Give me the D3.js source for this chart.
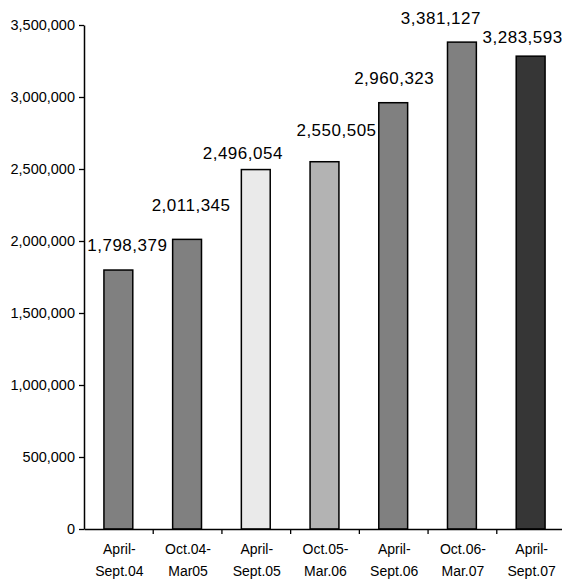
<!DOCTYPE html>
<html>
<head>
<meta charset="utf-8">
<script src="https://cdn.jsdelivr.net/npm/d3@7"></script>
<style>
  html, body { margin: 0; padding: 0; background: #fff; }
  svg { display: block; font-family: "Liberation Sans", Arial, sans-serif; }
</style>
</head>
<body>
<svg id="chart" width="562" height="582"></svg>
<script>
// ---- data ----
const categories = [
  ["April-", "Sept.04"],
  ["Oct.04-", "Mar05"],
  ["April-", "Sept.05"],
  ["Oct.05-", "Mar.06"],
  ["April-", "Sept.06"],
  ["Oct.06-", "Mar.07"],
  ["April-", "Sept.07"]
];
const values = [1798379, 2011345, 2496054, 2550505, 2960323, 3381127, 3283593];
const barColors = ["#808080", "#808080", "#eaeaea", "#b3b3b3", "#808080", "#808080", "#363636"];
const yTicks = [0, 500000, 1000000, 1500000, 2000000, 2500000, 3000000, 3500000];
// label nudges (as placed in the original chart), px
const labelDx = [9, 4, -13, 12, 1, -21, -8];
const labelDy = [-19, -28, -11, -26, -19, -18, -13];

// ---- layout ----
const svg = d3.select("#chart");
const plotLeft = 84, plotRight = 565, plotTop = 25, plotBottom = 529;

const y = d3.scaleLinear().domain([0, 3500000]).range([plotBottom, plotTop]);
const x = d3.scaleBand().domain(d3.range(categories.length)).range([plotLeft, plotRight]).padding(0);
const xb = d3.scaleLinear().domain([0, categories.length]).range([plotLeft, plotRight]);

// y axis
const yAxis = svg.append("g")
  .attr("transform", `translate(${plotLeft},0)`)
  .call(d3.axisLeft(y).tickValues(yTicks).tickFormat(d3.format(",")).tickSize(5).tickSizeOuter(0).tickPadding(4));
yAxis.select(".domain").attr("stroke", "#000").attr("stroke-width", 1.5);
yAxis.selectAll(".tick line").attr("stroke", "#000").attr("stroke-width", 1.3);
yAxis.selectAll(".tick text").attr("fill", "#000").style("font-size", "14.5px")
  .style("font-family", "'Liberation Sans', Arial, sans-serif");

// bars
const barW = x.bandwidth() * 0.42;
svg.append("g").selectAll("rect").data(values).join("rect")
  .attr("x", (d, i) => x(i) + (x.bandwidth() - barW) / 2)
  .attr("y", d => y(d))
  .attr("width", barW)
  .attr("height", d => y(0) - y(d))
  .attr("fill", (d, i) => barColors[i])
  .attr("stroke", "#000")
  .attr("stroke-width", 1.5);

// x axis (boundary ticks)
const xAxis = svg.append("g")
  .attr("transform", `translate(0,${plotBottom})`)
  .call(d3.axisBottom(xb).tickValues(d3.range(1, categories.length)).tickFormat("").tickSize(5).tickSizeOuter(0));
xAxis.select(".domain").attr("stroke", "#000").attr("stroke-width", 1.5);
xAxis.selectAll(".tick line").attr("stroke", "#000").attr("stroke-width", 1.3);

// category labels
const catG = svg.append("g").selectAll("text").data(categories).join("text")
  .attr("text-anchor", "middle")
  .attr("fill", "#000")
  .style("font-size", "14px");
catG.each(function(d, i) {
  const t = d3.select(this);
  const cx = x(i) + x.bandwidth() / 2 + 1;
  t.append("tspan").attr("x", cx).attr("y", plotBottom + 24.5).text(d[0]);
  t.append("tspan").attr("x", cx).attr("y", plotBottom + 47).text(d[1]);
});

// value labels
svg.append("g").selectAll("text").data(values).join("text")
  .attr("x", (d, i) => x(i) + x.bandwidth() / 2 + labelDx[i])
  .attr("y", (d, i) => y(d) + labelDy[i])
  .attr("text-anchor", "middle")
  .attr("fill", "#000")
  .style("font-size", "17px")
  .style("letter-spacing", "0.5px")
  .text(d => d3.format(",")(d));
</script>
</body>
</html>
